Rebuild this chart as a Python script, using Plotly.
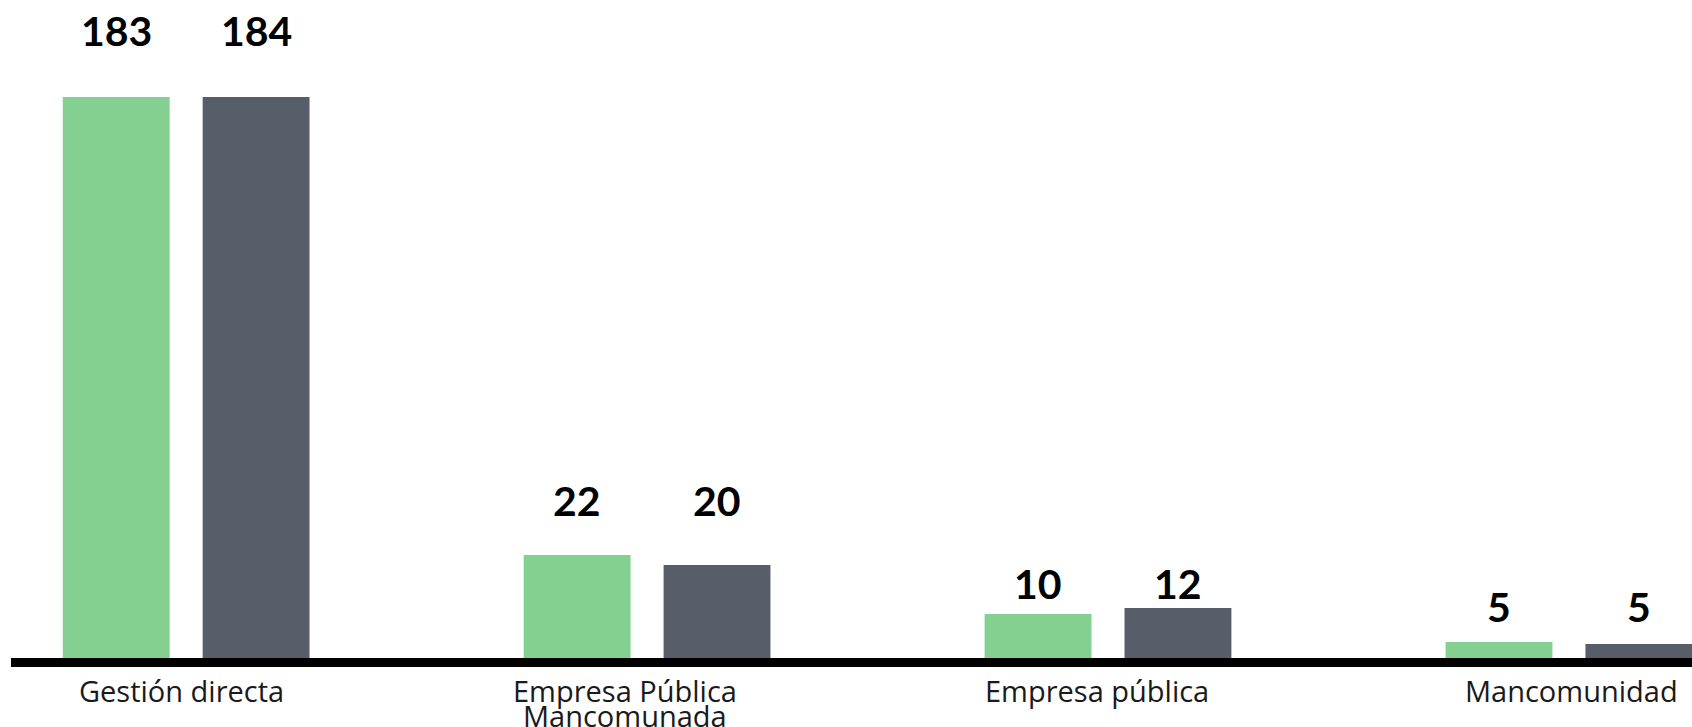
import plotly.graph_objects as go

# ---- data ----
categories = ["Gestión directa", "Empresa Pública<br>Mancomunada", "Empresa pública", "Mancomunidad"]
series_a_labels = [183, 22, 10, 5]      # green series, value labels
series_b_labels = [184, 20, 12, 5]      # dark series, value labels
series_a_heights = [561, 103, 44, 16]   # green bar heights as drawn
series_b_heights = [561, 93, 50, 14]    # dark bar heights as drawn

# ---- style ----
GREEN = "#84D090"
DARK = "#575E6A"
label_gap_a = [67, 55, 31, 36]  # px between bar top and label centre
label_gap_b = [67, 65, 25, 38]
BAR_OFFSET = 70
NUM_FONT = dict(family="Lato", size=41, color="#000000", weight="bold")
CAT_FONT = dict(family="Open Sans", size=29, color="#1a1a1a")
CAT_FIRST_LINE = -32   # px below the axis
CAT_LINE_STEP = -25
cat_label_xshift = [-5, -22, -11, 3]

fig = go.Figure()
fig.add_trace(go.Bar(x=categories, y=series_a_heights, marker=dict(color=GREEN, line=dict(width=0)),
                     name="A", hoverinfo="skip"))
fig.add_trace(go.Bar(x=categories, y=series_b_heights, marker=dict(color=DARK, line=dict(width=0)),
                     name="B", hoverinfo="skip"))

annotations = []
for cat, h, lab, gap in zip(categories, series_a_heights, series_a_labels, label_gap_a):
    annotations.append(dict(x=cat, y=h, text=str(lab), showarrow=False, xshift=-BAR_OFFSET,
                            yshift=gap, yanchor="middle", xanchor="center", font=NUM_FONT))
for cat, h, lab, gap in zip(categories, series_b_heights, series_b_labels, label_gap_b):
    annotations.append(dict(x=cat, y=h, text=str(lab), showarrow=False, xshift=BAR_OFFSET,
                            yshift=gap, yanchor="middle", xanchor="center", font=NUM_FONT))
# category labels, one annotation per line for tight line spacing
for cat, dx in zip(categories, cat_label_xshift):
    for i, line in enumerate(cat.split("<br>")):
        annotations.append(dict(x=cat, y=0, yref="paper", text=line, showarrow=False,
                                yanchor="middle", xanchor="center", xshift=dx,
                                yshift=CAT_FIRST_LINE + i * CAT_LINE_STEP, font=CAT_FONT))

fig.update_layout(
    width=1692, height=727,
    margin=dict(l=11, r=0, t=0, b=69),
    paper_bgcolor="white", plot_bgcolor="white",
    barmode="group", bargap=0.393, bargroupgap=0.236,
    showlegend=False,
    annotations=annotations,
    xaxis=dict(type="category", range=[-0.380, 3.267], showline=True, linecolor="black", linewidth=9,
               ticks="", showgrid=False, zeroline=False, showticklabels=False),
    yaxis=dict(visible=False, range=[0, 658], showgrid=False, zeroline=False),
)

fig.write_html("out.html", config={"displayModeBar": False},
               post_script="document.body.style.margin='0';document.body.style.overflow='hidden';")
